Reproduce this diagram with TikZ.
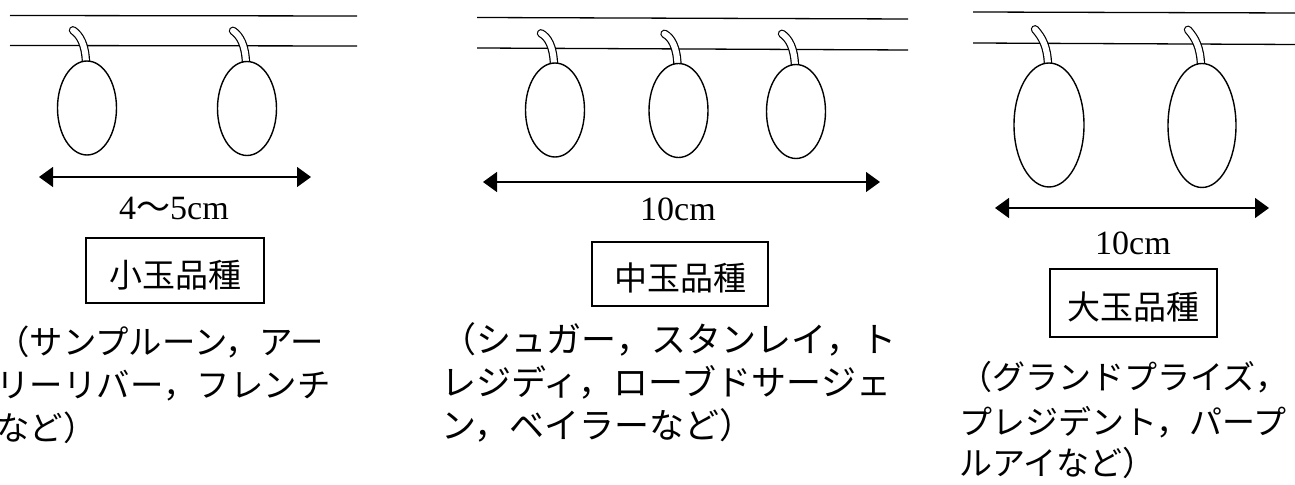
\documentclass[tikz,border=0pt]{standalone}
\usepackage{fontspec}
\setmainfont{Liberation Serif}
\newfontfamily\jpfont{Noto Sans CJK JP}
\usetikzlibrary{shapes.geometric,arrows.meta,backgrounds}
\tikzset{
  wire/.style={line width=0.65pt},
  fruit/.style={ellipse, draw, line width=0.7pt, fill=white, inner sep=0pt,
                minimum width=29.5pt, minimum height=47pt},
  bigfruit/.style={fruit, minimum width=35pt, minimum height=62pt},
  stemline/.style={draw=black, line width=0.6pt, double=white,
                   double distance=3pt, line cap=round},
  span/.style={line width=0.65pt,
               {Triangle[length=7pt,width=10pt]}-{Triangle[length=7pt,width=10pt]}},
  size/.style={font=\fontsize{17}{20}\selectfont, anchor=base, inner sep=0pt},
  kind/.style={draw, line width=0.65pt, font=\jpfont\fontsize{16.5}{18}\selectfont,
               text height=17pt, text depth=0pt, inner sep=0pt,
               minimum width=89pt, minimum height=32.5pt},
  names/.style={font=\jpfont\fontsize{#1}{#1}\selectfont, anchor=base west, inner sep=0pt},
}
% stem of a fruit: from the top of the fruit up to the wire, bending to the left
\newcommand\drawstem[2]{%
  \draw[stemline] ([shift={(-1,3)}]#1.north)
    .. controls ([shift={(-1.5,-16)}]#1.north) and ([shift={(-7,-25)}]#1.north)
    .. ([shift={(-14,-#2)}]#1.north);}
\begin{document}
\begin{tikzpicture}[x=0.5pt, y=-0.5pt]
\useasboundingbox (0,0) rectangle (1295,485);

% ---- small fruit ----
\node[fruit] (s1) at (87,108) {};
\node[fruit] (s2) at (247,108.5) {};
\coordinate (sa1) at (10,15.5);  \coordinate (sa2) at (357,16);
\coordinate (sb1) at (10,45.5);  \coordinate (sb2) at (357,46);
\coordinate (sl) at (39,177);    \coordinate (sr) at (311,177);
\draw[span] (sl) -- (sr);
\node[size] (ssize) at (174,220) {4{\jpfont ～}5cm};
\node[kind] (skind) at (175,270.5) {小玉品種};
\node[names=16.7] (sn1) at (-4,354.5) {（サンプルーン，アー};
\node[names=16.7] (sn2) at (-4,397.5) {リーリバー，フレンチ};
\node[names=16.7] (sn3) at (-4,440.5) {など）};

% ---- medium fruit ----
\node[fruit] (m1) at (555,110) {};
\node[fruit] (m2) at (678.5,110.5) {};
\node[fruit] (m3) at (796,111.5) {};
\coordinate (ma1) at (477,17.5); \coordinate (ma2) at (908,19);
\coordinate (mb1) at (477,48);   \coordinate (mb2) at (908,50);
\coordinate (ml) at (483,182);   \coordinate (mr) at (880,182);
\draw[span] (ml) -- (mr);
\node[size] (msize) at (678,221) {10cm};
\node[kind, minimum width=88pt, minimum height=32pt] (mkind) at (680,274) {中玉品種};
\node[names=17.5] (mn1) at (441,353) {（シュガー，スタンレイ，ト};
\node[names=17.5] (mn2) at (441,396) {レジディ，ローブドサージェ};
\node[names=17.5] (mn3) at (441,439) {ン，ベイラーなど）};

% ---- large fruit ----
\node[bigfruit] (l1) at (1049,125) {};
\node[bigfruit, minimum width=34pt] (l2) at (1202,125.5) {};
\coordinate (la1) at (973,12);   \coordinate (la2) at (1295,13);
\coordinate (lb1) at (973,43);   \coordinate (lb2) at (1295,44.5);
\coordinate (ll) at (995,208);   \coordinate (lr) at (1269,208);
\draw[span] (ll) -- (lr);
\node[size] (lsize) at (1133,255) {10cm};
\node[kind, minimum width=83.5pt, minimum height=34pt] (lkind) at (1133.5,303) {大玉品種};
\node[names=16.5] (ln1) at (959,389.5) {（グランドプライズ，};
\node[names=16.5] (ln2) at (959,434.5) {プレジデント，パープ};
\node[names=16.5] (ln3) at (959,475.5) {ルアイなど）};

% wires and stems sit behind the fruit
\begin{pgfonlayer}{background}
  \draw[wire] (sa1) -- (sa2) (sb1) -- (sb2);
  \draw[wire] (ma1) -- (ma2) (mb1) -- (mb2);
  \draw[wire] (la1) -- (la2) (lb1) -- (lb2);
  \drawstem{s1}{30}\drawstem{s2}{30}
  \drawstem{m1}{29}\drawstem{m2}{29}\drawstem{m3}{30}
  \drawstem{l1}{33}\drawstem{l2}{33}
\end{pgfonlayer}
\end{tikzpicture}
\end{document}
